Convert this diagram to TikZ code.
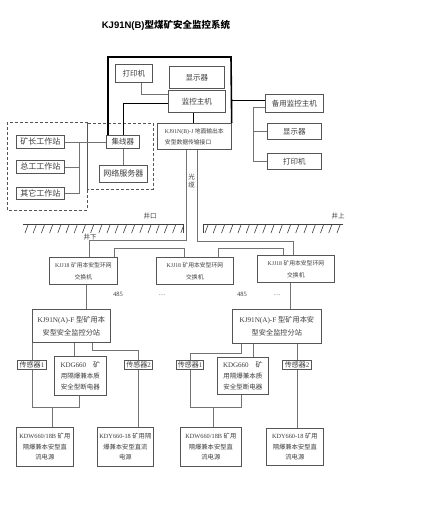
\documentclass[tikz,border=0pt]{standalone}
\usepackage{fontspec}
\setmainfont{Liberation Serif}
\newfontfamily\cjk{Noto Sans CJK SC}
\newfontfamily\titlefont{Liberation Sans}
\newcommand\zh[1]{{\cjk #1}}
\usetikzlibrary{calc}
\definecolor{boxc}{RGB}{85,85,85}
\definecolor{linec}{RGB}{115,115,115}
\definecolor{txtc}{RGB}{60,60,60}
\newcommand\fs[2]{\fontsize{#1}{#2}\selectfont}
\newcommand\mybox[7][]{\node[box,minimum width={(#5-#3)*1pt},minimum height={(#6-#4)*1pt},#1] (#2) at (#3,#4) {#7};}
\begin{document}
\begin{tikzpicture}[x=1pt,y=-1pt,
 box/.style={draw=boxc,line width=0.7pt,anchor=north west,inner sep=0pt,align=center,text=txtc,font=\fs{7.5}{9}},
 ln/.style={draw=linec,line width=0.7pt},
 tk/.style={draw=black,line width=1.6pt},
 lbl/.style={text=txtc,inner sep=0pt},
 dbox/.style={draw=boxc,line width=0.7pt,dash pattern=on 3pt off 2pt},
 hatch/.style={draw=black!75,line width=0.6pt},
]
\fill[white] (0,0) rectangle (447,506);
\useasboundingbox (0,0) rectangle (447,506);

% title
\node[lbl,text=black,font=\titlefont\bfseries\fs{9.5}{11}] (title) at (166,25) {KJ91N(B)\zh{型煤矿安全监控系统}};

% dashed groups
\draw[dbox] (7,122) rectangle (87,210);
\draw[dbox] (87,123) rectangle (153,189);

% top boxes
\mybox{dy1}{115}{64}{152}{82}{\zh{打印机}}
\mybox{xs1}{169}{66}{224}{88}{\zh{显示器}}
\mybox{jk}{168}{90}{225}{112}{\zh{监控主机}}
\mybox[align=left,font=\fs{5.8}{11}]{kj}{157}{123}{231}{149}{KJ91N(B)-J \zh{地面输出本}\\\zh{安型数据传输接口}}
\mybox{jx}{106}{135}{139}{148}{\zh{集线器}}
\mybox[font=\fs{8}{9}]{wl}{99}{165}{147}{182}{\zh{网络服务器}}
\mybox[font=\fs{8}{9}]{kz}{16}{135}{64}{148}{\zh{矿长工作站}}
\mybox[font=\fs{8}{9}]{zg}{16}{160}{64}{173}{\zh{总工工作站}}
\mybox[font=\fs{8}{9}]{qt}{16}{187}{64}{199}{\zh{其它工作站}}
\mybox{by}{265}{94}{323}{112}{\zh{备用监控主机}}
\mybox{xs2}{267}{123}{321}{139}{\zh{显示器}}
\mybox{dy2}{267}{153}{321}{169}{\zh{打印机}}

% thick frame and links
\coordinate (ftr) at (231,57);
\draw[tk] ([xshift=2pt]jx.north west) |- (ftr) -- (kj.north east);
\draw[tk] ([yshift=-2pt]jk.west) -| ([xshift=0.5pt]jx.north);
\draw[tk] ([xshift=-3.5pt]jk.south) -- ([xshift=-3.5pt]jk.south |- kj.north);
\coordinate (byw) at ([yshift=3pt]by.west);
\draw[tk] (byw) -- (byw -| ftr);

% thin links top
\draw[ln] ([xshift=7.5pt]dy1.south) |- ([yshift=7pt]jk.west);
\draw[ln] (jx.south) -- (jx.south |- wl.north);
\coordinate (bus) at ([xshift=-12pt,yshift=-4pt]by.west);
\draw[ln] ([yshift=-4pt]by.west) -- (bus) |- (dy2.west);
\draw[ln] (bus |- xs2.west) -- (xs2.west);
\coordinate (wsb) at ([xshift=15pt]kz.east);
\draw[ln] (kz.east) -- (jx.west);
\draw[ln] (wsb) |- (qt.east);
\draw[ln] (zg.east) -- (zg.east -| wsb);

% fibre label
\node[lbl,align=center,font=\fs{6.5}{7.5}] (gl) at (191.5,181) {\zh{光}\\\zh{缆}};

% ground lines
\draw[hatch] (23,224) -- (183,224) -- (183,233);
\foreach \x in {25,33.2,...,181} \draw[hatch] (\x,233) -- (\x+3,225);
\draw[hatch] (343,224) -- (203,224) -- (203,233);
\foreach \x in {205,213.25,...,338} \draw[hatch] (\x,233) -- (\x+3,225);
\node[lbl,font=\fs{6.5}{7}] (jkou) at (150,216) {\zh{井口}};
\node[lbl,font=\fs{6.5}{7}] (jshang) at (338,216) {\zh{井上}};
\node[lbl,font=\fs{6.5}{7}] (jxia) at (90,237) {\zh{井下}};

% ring switches
\mybox[font=\fs{5.8}{12}]{k1}{49}{257}{117}{284}{KJJ18 \zh{矿用本安型环网}\\\zh{交换机}}
\mybox[font=\fs{5.8}{12}]{k2}{156}{257}{233}{284}{KJJ18 \zh{矿用本安型环网}\\\zh{交换机}}
\mybox[font=\fs{5.8}{12}]{k3}{257}{255}{334}{282}{KJJ18 \zh{矿用本安型环网}\\\zh{交换机}}

\draw[ln] ([xshift=-8pt]kj.south) -- ++(0,91) -| ([xshift=6pt]k1.north);
\draw[ln] ([xshift=3pt]kj.south) -- ++(0,92) -| ([xshift=-2.5pt]k3.north);
\draw[ln] ([xshift=31pt]k1.north) -- ++(0,-9) -| ([xshift=-10.5pt]k2.north);
\draw[ln] ([xshift=23.5pt]k2.north) -- ++(0,-9) -| ([xshift=-12.5pt]k3.north);

\node[lbl,font=\fs{6.5}{7}] (n485a) at (118,294) {485};
\node[lbl,font=\fs{6.5}{7}] (n485b) at (242,294) {485};
\node[lbl,font=\fs{6.5}{7}] (dotsa) at (162,295) {\dots};
\node[lbl,font=\fs{6.5}{7}] (dotsb) at (277,295) {\dots};

% substations
\mybox[font=\fs{7.2}{13}]{st1}{32}{309}{110}{342}{KJ91N(A)-F \zh{型矿用本}\\\zh{安型安全监控分站}}
\mybox[font=\fs{7.2}{13}]{st2}{232}{309}{321}{343}{KJ91N(A)-F \zh{型矿用本安}\\\zh{型安全监控分站}}
\draw[ln] ([xshift=3pt]k1.south) -- ([xshift=3pt]k1.south |- st1.north);
\draw[ln] ([xshift=-5.5pt]k3.south) -- ([xshift=-5.5pt]k3.south |- st2.north);

% left group
\mybox[font=\fs{7}{8},line width=1pt]{s1a}{17}{360}{46}{369}{\zh{传感器}1}
\mybox[font=\fs{6.5}{11}]{kdg1}{54}{356}{106}{395}{{\fs{7}{11}KDG660\quad\zh{矿}}\\\zh{用隔爆兼本质}\\\zh{安全型断电器}}
\mybox[font=\fs{7}{8},line width=1pt]{s2a}{124}{360}{152}{369}{\zh{传感器}2}
\mybox[font=\fs{6.3}{10.5}]{kdw1}{16}{427}{73}{466}{KDW660/18B \zh{矿用}\\\zh{隔爆兼本安型直}\\\zh{流电源}}
\mybox[font=\fs{6.3}{10.5}]{kdy1}{97}{427}{153}{466}{KDY660-18 \zh{矿用隔}\\\zh{爆兼本安型直流}\\\zh{电源}}

\draw[ln] (st1.south west) -- (st1.south west |- s1a.north);
\coordinate (lb1) at ([xshift=-1pt,yshift=-12pt]kdg1.south);
\draw[ln] (s1a.south) |- (lb1) -- ([xshift=-1pt]kdg1.south);
\draw[ln] ([xshift=7.5pt]kdw1.north) -- ([xshift=7.5pt]kdw1.north |- lb1);
\draw[ln] ([xshift=3pt]st1.south) -- ([xshift=3pt]st1.south |- kdg1.north);
\draw[ln] ([xshift=21pt]st1.south) -- ++(0,8) -| (s2a.north);
\draw[ln] (s2a.south) -- (s2a.south |- kdy1.north);

% right group
\mybox[font=\fs{7}{8},line width=1pt]{s1b}{176}{360}{203}{369}{\zh{传感器}1}
\mybox[font=\fs{6.5}{11}]{kdg2}{217}{357}{268}{394}{{\fs{7}{11}KDG660\quad\zh{矿}}\\\zh{用隔爆兼本质}\\\zh{安全型断电器}}
\mybox[font=\fs{7}{8},line width=1pt]{s2b}{282}{360}{311}{369}{\zh{传感器}2}
\mybox[font=\fs{6.3}{10.5}]{kdw2}{180}{427}{241}{466}{KDW660/18B \zh{矿用}\\\zh{隔爆兼本安型直}\\\zh{流电源}}
\mybox[font=\fs{6.3}{10.5}]{kdy2}{266}{428}{323}{465}{KDY660-18 \zh{矿用}\\\zh{隔爆兼本安型直}\\\zh{流电源}}

\draw[ln] ([xshift=-35.5pt]st2.south) -- ++(0,10) -| (s1b.north);
\coordinate (lb2) at ([xshift=-1.5pt,yshift=-13pt]kdg2.south);
\draw[ln] (s1b.south) |- (lb2) -- ([xshift=-1.5pt]kdg2.south);
\draw[ln] ([xshift=2.5pt]kdw2.north) -- ([xshift=2.5pt]kdw2.north |- lb2);
\draw[ln] ([xshift=-23.5pt]st2.south) -- ([xshift=-23.5pt]st2.south |- kdg2.north);
\draw[ln] (s2b.north |- st2.south) -- (s2b.north);
\draw[ln] (s2b.south) -- (s2b.south |- kdy2.north);
\end{tikzpicture}
\end{document}
